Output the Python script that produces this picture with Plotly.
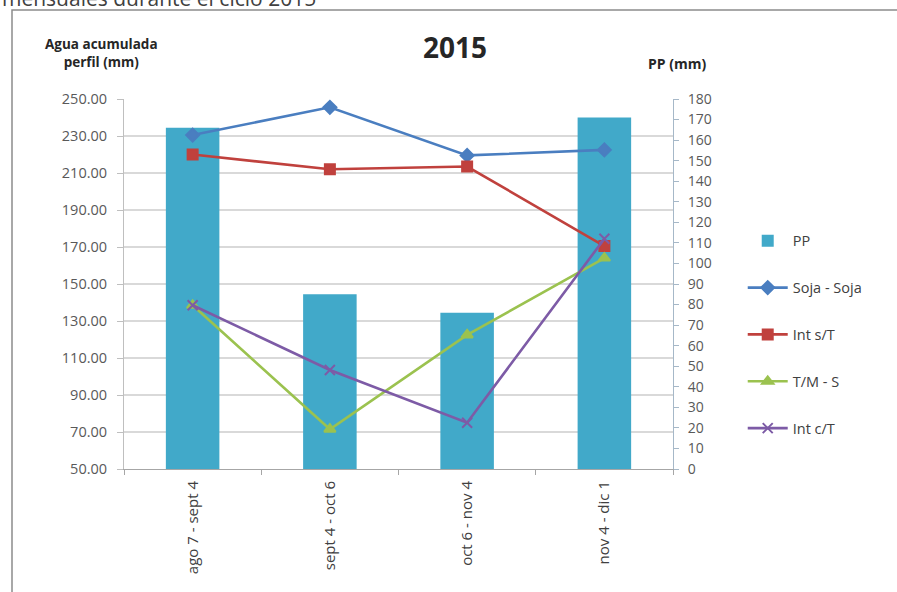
import plotly.graph_objects as go

# Periods (x categories)
periods = ["ago 7 - sept 4", "sept 4 - oct 6", "oct 6 - nov 4", "nov 4 - dic 1"]

# Rainfall per period, PP (mm) - right axis
pp = [166, 85, 76, 171]

# Accumulated profile water (mm) per rotation - left axis
soja_soja = [230.5, 245.5, 219.5, 222.5]
int_sin_t = [220.0, 212.0, 213.5, 170.5]
tm_s = [138.5, 71.5, 122.5, 164.0]
int_con_t = [138.5, 103.5, 75.0, 174.5]

left_ticks = [50, 70, 90, 110, 130, 150, 170, 190, 210, 230, 250]
right_ticks = list(range(0, 181, 10))

FONT = "Open Sans"
GREY = "#595959"

fig = go.Figure()

fig.add_trace(go.Bar(
    x=periods, y=pp, name="PP", yaxis="y", legendgroup="a",
    marker=dict(color="#41A9C9", line=dict(width=0)), width=0.39,
))

line_series = [
    ("Soja - Soja", soja_soja, "#4A7EC0", "diamond", 10, "b"),
    ("Int s/T", int_sin_t, "#C0413D", "square", 10, "c"),
    ("T/M - S", tm_s, "#9BC24F", "triangle-up", 10, "d"),
    ("Int c/T", int_con_t, "#7D5BA6", "x-thin-open", 10, "e"),
]
for name, vals, col, sym, size, grp in line_series:
    fig.add_trace(go.Scatter(
        x=periods, y=vals, name=name, yaxis="y2", legendgroup=grp,
        mode="lines+markers",
        line=dict(color=col, width=2.6),
        marker=dict(symbol=sym, size=size, color=col,
                    line=dict(color=col, width=2)),
    ))

fig.update_layout(
    width=897, height=592,
    margin=dict(l=124, r=224, t=99, b=123),
    paper_bgcolor="white", plot_bgcolor="white",
    font=dict(family=FONT, color=GREY, size=14),
    bargap=0.61,
    showlegend=True,
    legend=dict(
        x=1.127, y=0.66, xanchor="left", yanchor="top",
        font=dict(family=FONT, size=14.5, color="#404040"),
        tracegroupgap=25, itemwidth=40, bgcolor="rgba(0,0,0,0)",
    ),
    xaxis=dict(
        type="category", tickangle=-90, showgrid=False,
        showline=True, linecolor="#A6A6A6", linewidth=1,
        ticks="outside", tickson="boundaries", ticklen=5,
        tickcolor="#A6A6A6", ticklabelstandoff=5,
        tickfont=dict(family=FONT, size=15, color="#404040"),
    ),
    yaxis=dict(
        side="right", range=[0, 180], tickvals=right_ticks,
        showgrid=False, zeroline=False,
        showline=True, linecolor="#A6B8C8", linewidth=1,
        ticks="outside", ticklen=5, tickcolor="#A6B8C8",
        ticklabelstandoff=6,
        tickfont=dict(family=FONT, size=14, color=GREY),
    ),
    yaxis2=dict(
        side="left", overlaying="y", range=[50, 250],
        tickvals=left_ticks, tickformat=".2f",
        showgrid=True, gridcolor="#D9D9D9", gridwidth=1.5,
        zeroline=False,
        showline=True, linecolor="#BFBFBF", linewidth=1,
        ticks="outside", ticklen=6, tickcolor="#BFBFBF",
        ticklabelstandoff=7,
        tickfont=dict(family=FONT, size=14.5, color=GREY),
    ),
)

# paper coordinates from plot-area pixels
def px(x):
    return (x - 124) / 549.0

def py(y):
    return (469 - y) / 370.0

annotations = [
    dict(text="<b>2015</b>", x=px(455), y=py(47), font=dict(size=28, color="#262626")),
    dict(text="<b>Agua acumulada<br>perfil (mm)</b>", x=px(101), y=py(53),
         font=dict(size=13.5, color="#262626")),
    dict(text="<b>PP (mm)</b>", x=px(677), y=py(63), font=dict(size=14, color="#262626")),
    dict(text="mensuales durante el ciclo 2015", x=px(0), y=py(-2), xanchor="left",
         font=dict(size=21, color="#404040", family="Open Sans")),
]
for a in annotations:
    a.setdefault("xanchor", "center")
    fig.add_annotation(xref="paper", yref="paper", yanchor="middle",
                       showarrow=False, **a)

# chart frame
fig.add_shape(type="rect", xref="paper", yref="paper",
              x0=px(12), x1=px(905), y0=py(600), y1=py(10),
              line=dict(color="#8C8C8C", width=1.5), layer="below")

fig.write_html("out.html")
